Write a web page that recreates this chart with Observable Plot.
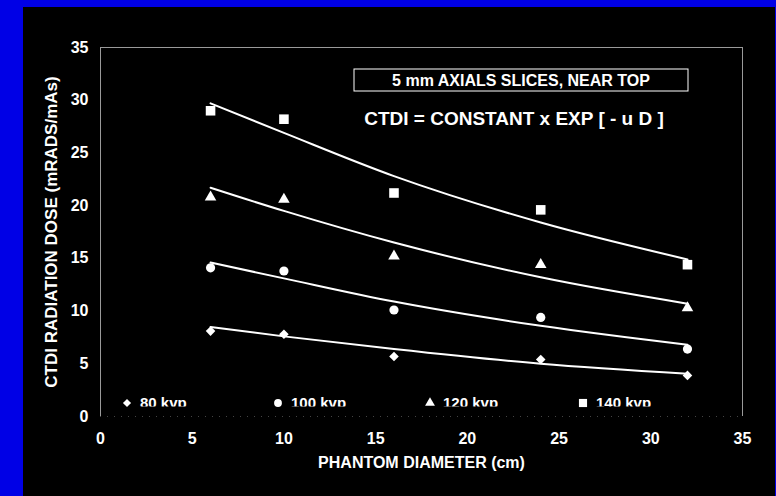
<!DOCTYPE html>
<html>
<head>
<meta charset="utf-8">
<script src="https://cdn.jsdelivr.net/npm/d3@7"></script>
<script src="https://cdn.jsdelivr.net/npm/@observablehq/plot@0.6"></script>
<style>
  html, body { margin: 0; padding: 0; width: 776px; height: 496px; background: #0000e6; overflow: hidden; }
  #chart { position: absolute; left: 23px; top: 7px; width: 752px; height: 489px; background: #000; }
  svg { font-family: "Liberation Sans", Arial, sans-serif; }
</style>
</head>
<body>
<div id="chart"></div>
<script>
// Data
const diameters = [6, 10, 16, 24, 32];              // phantom diameter (cm)
const kvp80  = [8.1, 7.8, 5.7, 5.4, 3.9];
const kvp100 = [14.1, 13.8, 10.1, 9.4, 6.4];
const kvp120 = [20.8, 20.6, 15.2, 14.4, 10.3];
const kvp140 = [29.0, 28.2, 21.2, 19.6, 14.4];
// exponential trend lines read at the same diameters
const fit80  = [8.5, 7.6, 6.4, 5.0, 4.05];
const fit100 = [14.6, 13.1, 10.9, 8.6, 6.8];
const fit120 = [21.7, 19.5, 16.5, 13.2, 10.7];
const fit140 = [29.7, 26.9, 22.8, 18.4, 14.9];
const seriesNames = ["80 kvp", "100 kvp", "120 kvp", "140 kvp"];
const seriesSymbols = ["diamond2", "circle", "triangle", "square"];
const xTicks = [0, 5, 10, 15, 20, 25, 30, 35];
const yTicks = [0, 5, 10, 15, 20, 25, 30, 35];
const boxTitle = "5 mm AXIALS SLICES, NEAR TOP";
const equation = "CTDI = CONSTANT x EXP [ - u D ]";

const values = [kvp80, kvp100, kvp120, kvp140];
const fits = [fit80, fit100, fit120, fit140];
const radii = {"diamond2": 4.3, "circle": 4.6, "triangle": 4.3, "square": 5.4};

const points = [];
const lines = [];
seriesNames.forEach((s, i) => {
  diameters.forEach((d, j) => {
    points.push({series: s, symbol: seriesSymbols[i], x: d, y: values[i][j]});
    lines.push({series: s, x: d, y: fits[i][j]});
  });
});

const W = 752, H = 489;
const plot = Plot.plot({
  width: W,
  height: H,
  marginLeft: 77,
  marginTop: 40,
  marginRight: 33,
  marginBottom: 80,
  style: {background: "#000", color: "#fff", fontFamily: "Liberation Sans, Arial, sans-serif"},
  x: {domain: [0, 35]},
  y: {domain: [0, 35]},
  marks: [
    Plot.ruleY([0], {stroke: "#444", strokeDasharray: "1,6"}),
    Plot.ruleY([35], {stroke: "#9a9a9a"}),
    Plot.ruleX([0, 35], {stroke: "#9a9a9a"}),
    Plot.axisX({ticks: xTicks, tickSize: 0, tickPadding: 16, fontSize: 16, fontWeight: "bold", fill: "#fff",
      label: "PHANTOM DIAMETER (cm)", labelAnchor: "center", labelArrow: "none", labelOffset: 51}),
    Plot.axisY({ticks: yTicks, tickSize: 0, tickPadding: 12, fontSize: 16, fontWeight: "bold", fill: "#fff",
      label: "CTDI RADIATION DOSE (mRADS/mAs)", labelAnchor: "center", labelArrow: "none", labelOffset: 56}),
    Plot.line(lines, {x: "x", y: "y", z: "series", stroke: "#fff", strokeWidth: 2, curve: "monotone-x"}),
    ...seriesSymbols.map(sym => Plot.dot(points.filter(p => p.symbol === sym),
      {x: "x", y: "y", symbol: () => sym, r: radii[sym], fill: "#fff", stroke: "none"}))
  ]
});

const svg = d3.select(plot);
svg.selectAll("[aria-label='x-axis label'] text")
  .attr("font-size", 16).attr("font-weight", "bold").attr("fill", "#fff");
svg.selectAll("[aria-label='y-axis label'] text")
  .attr("font-size", 17).attr("font-weight", "bold").attr("fill", "#fff");

// Annotation box (layout, in pixels of the svg)
const g = svg.append("g").attr("font-family", "Liberation Sans, Arial, sans-serif").attr("font-weight", "bold").attr("fill", "#fff");
g.append("rect").attr("x", 331).attr("y", 62).attr("width", 334).attr("height", 22)
  .attr("fill", "none").attr("stroke", "#fff").attr("stroke-width", 1);
g.append("text").attr("x", 498).attr("y", 73).attr("dy", "0.35em").attr("text-anchor", "middle")
  .attr("font-size", 16).text(boxTitle);
g.append("text").attr("x", 491).attr("y", 111).attr("dy", "0.35em").attr("text-anchor", "middle")
  .attr("font-size", 19).text(equation);

// Legend inside the plot area (text clipped at the bottom as in the reference)
svg.append("defs").append("clipPath").attr("id", "legclip")
  .append("rect").attr("x", 0).attr("y", 380).attr("width", W).attr("height", 19.5);
const legendX = [104, 255, 407, 560];
seriesNames.forEach((s, i) => {
  const sym = seriesSymbols[i];
  const symType = {diamond2: d3.symbolDiamond2, circle: d3.symbolCircle, triangle: d3.symbolTriangle, square: d3.symbolSquare}[sym];
  const r = radii[sym] * 0.85;
  g.append("path").attr("d", d3.symbol(symType, Math.PI * r * r)())
    .attr("transform", `translate(${legendX[i]},396)`).attr("fill", "#fff");
  g.append("text").attr("x", legendX[i] + 13).attr("y", 401).attr("text-anchor", "start")
    .attr("clip-path", "url(#legclip)")
    .attr("font-size", 15).text(s);
});

document.getElementById("chart").appendChild(plot);
</script>
</body>
</html>
